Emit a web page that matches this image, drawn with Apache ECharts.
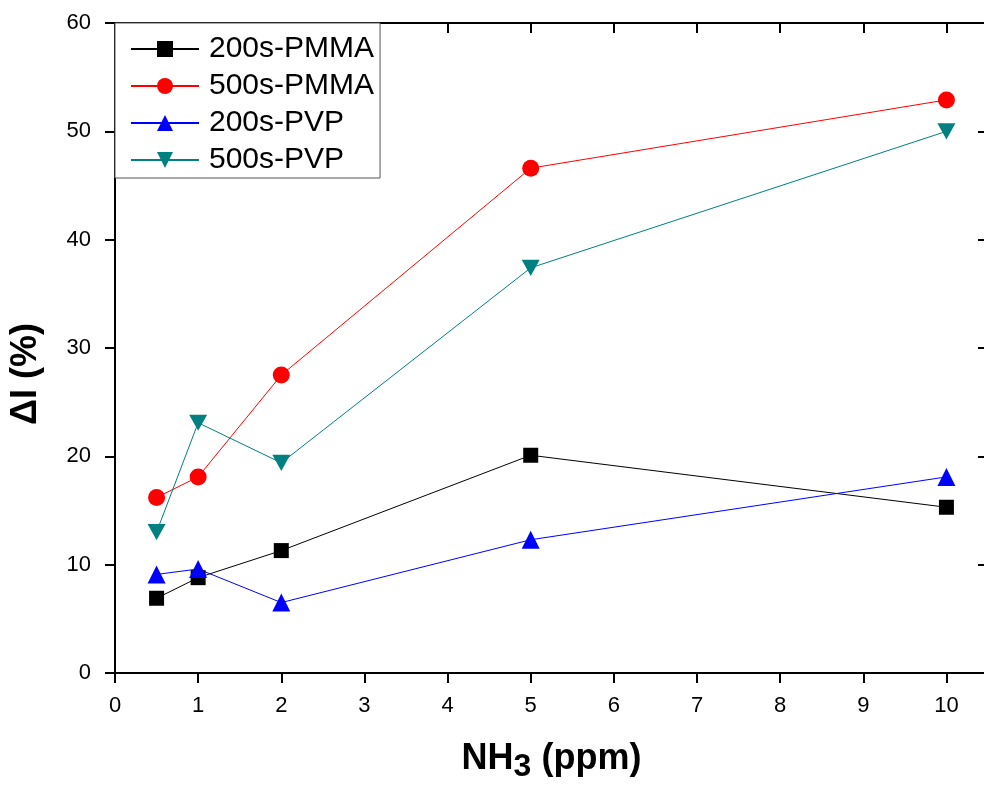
<!DOCTYPE html>
<html>
<head>
<meta charset="UTF-8">
<title>NH3 response</title>
<script src="https://cdn.jsdelivr.net/npm/echarts@6/dist/echarts.min.js"></script>
<style>
  html, body { margin: 0; padding: 0; background: #fff; }
  #chart { width: 984px; height: 787px; }
</style>
</head>
<body>
<div id="chart"></div>
<script>
// concentrations (ppm)
var conc = [0.5, 1, 2, 5, 10];
var seriesNames = ['200s-PMMA', '500s-PMMA', '200s-PVP', '500s-PVP'];
// delta I (%)
var pmma200 = [6.9, 8.8, 11.3, 20.1, 15.3];
var pmma500 = [16.2, 18.1, 27.5, 46.6, 52.9];
var pvp200 = [9.1, 9.6, 6.5, 12.3, 18.1];
var pvp500 = [13.0, 23.1, 19.4, 37.4, 50.0];
var xTicks = [0, 1, 2, 3, 4, 5, 6, 7, 8, 9, 10];
var yTicks = [0, 10, 20, 30, 40, 50, 60];

var colors = ['#000000', '#ff0000', '#0000ff', '#008080'];
var symbols = ['rect', 'circle', 'triangle', 'path://M0,0 L10,0 L5,9 Z'];
var sizes = [15, 17, 18, 18];
var values = [pmma200, pmma500, pvp200, pvp500];

function pairs(ys) {
  return conc.map(function (x, i) { return [x, ys[i]]; });
}

var font = '"Liberation Sans", Arial, sans-serif';
var chart = echarts.init(document.getElementById('chart'));

var series = seriesNames.map(function (name, k) {
  return {
    name: name,
    type: 'line',
    data: pairs(values[k]),
    symbol: symbols[k],
    symbolSize: sizes[k],
    symbolKeepAspect: true,
    showAllSymbol: true,
    animation: false,
    lineStyle: { color: colors[k], width: 1 },
    itemStyle: { color: colors[k] },
    emphasis: { disabled: true }
  };
});

var option = {
  backgroundColor: '#fff',
  animation: false,
  // plot frame runs a few px past the right edge, as in the original figure
  grid: { left: 115, top: 23, width: 873, height: 650, outerBoundsMode: 'none', containLabel: false },
  legend: {
    orient: 'vertical',
    left: 115,
    top: 23,
    padding: [11, 6, 3, 15],
    itemGap: 7,
    itemWidth: 68,
    itemHeight: 20,
    backgroundColor: '#fff',
    borderColor: '#555',
    borderWidth: 1,
    borderRadius: 0,
    textStyle: { fontFamily: font, fontSize: 30, lineHeight: 30, color: '#000', padding: [0, 0, 0, 5] },
    data: seriesNames
  },
  xAxis: [{
    type: 'value',
    min: 0, max: 10.5, interval: 1,
    name: '{b|NH}{s|3}{b| (ppm)}',
    nameLocation: 'middle',
    nameGap: 62,
    nameTextStyle: {
      rich: {
        b: { fontFamily: font, fontSize: 36, fontWeight: 'bold', color: '#000' },
        s: { fontFamily: font, fontSize: 32, fontWeight: 'bold', color: '#000', padding: [16, 0, 0, 0] }
      }
    },
    splitLine: { show: false },
    axisLine: { onZero: false, lineStyle: { color: '#000', width: 2 } },
    axisTick: { length: 10, lineStyle: { color: '#000', width: 2 } },
    axisLabel: {
      fontFamily: font, fontSize: 22, color: '#000', margin: 22,
      formatter: function (v) { return xTicks.indexOf(v) >= 0 ? String(v) : ''; }
    }
  }, {
    type: 'value',
    position: 'top',
    min: 0, max: 10.5, interval: 1,
    splitLine: { show: false },
    axisLine: { onZero: false, lineStyle: { color: '#000', width: 2 } },
    axisTick: { inside: true, length: 10, lineStyle: { color: '#000', width: 2 } },
    axisLabel: { show: false }
  }],
  yAxis: [{
    type: 'value',
    min: 0, max: 60, interval: 10,
    name: 'ΔI (%)',
    nameLocation: 'middle',
    nameGap: 71,
    nameTextStyle: {
      fontFamily: font, fontSize: 36, fontWeight: 'bold', color: '#000',
      padding: [0, 52, 0, 0]
    },
    splitLine: { show: false },
    axisLine: { onZero: false, lineStyle: { color: '#000', width: 2 } },
    axisTick: { length: 10, lineStyle: { color: '#000', width: 2 } },
    axisLabel: {
      fontFamily: font, fontSize: 22, color: '#000', margin: 24,
      formatter: function (v) { return yTicks.indexOf(v) >= 0 ? String(v) : ''; }
    }
  }, {
    type: 'value',
    position: 'right',
    min: 0, max: 60, interval: 10,
    splitLine: { show: false },
    axisLine: { onZero: false, lineStyle: { color: '#000', width: 2 } },
    axisTick: { inside: true, length: 10, lineStyle: { color: '#000', width: 2 } },
    axisLabel: { show: false }
  }],
  series: series
};

chart.setOption(option);
</script>
</body>
</html>
